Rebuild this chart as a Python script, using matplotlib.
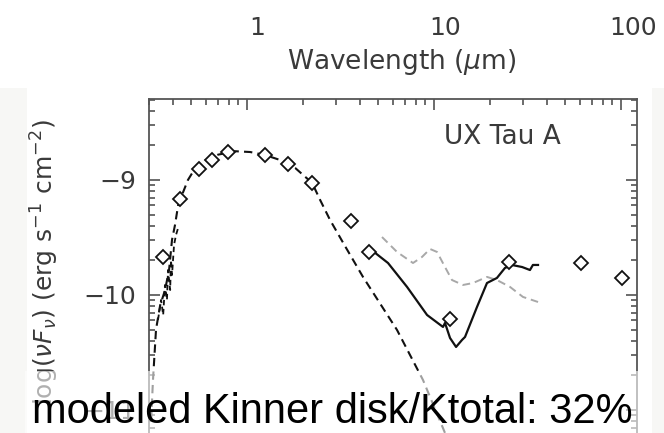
import numpy as np
import matplotlib.pyplot as plt
from matplotlib.ticker import FixedLocator, LogLocator, FuncFormatter, NullFormatter
from matplotlib.patches import Rectangle

plt.rcParams['mathtext.fontset'] = 'dejavusans'

# photometry (wavelength in micron, log nuFnu)
phot_wl = [0.356, 0.438, 0.554, 0.65, 0.79, 1.25, 1.66, 2.23, 3.6, 4.5, 12.2, 25.2, 61.0, 101.0]
phot_logf = [-9.67, -9.165, -8.904, -8.826, -8.757, -8.783, -8.86, -9.026, -9.357, -9.626,
             -10.21, -9.713, -9.72, -9.852]

# stellar photosphere
phot_model_wl = [0.307, 0.314, 0.326, 0.343, 0.364, 0.383, 0.397, 0.412, 0.428, 0.449, 0.483,
                 0.527, 0.596, 0.70, 0.863, 1.04, 1.248, 1.50, 1.81, 2.23, 2.46, 2.78, 3.34,
                 4.17, 6.34, 8.73, 11.45, 15.6]
phot_model_logf = [-11.09, -10.74, -10.30, -10.09, -9.96, -9.78, -9.52, -9.39, -9.22, -9.13,
                   -9.00, -8.90, -8.83, -8.78, -8.75, -8.757, -8.783, -8.826, -8.896, -9.026,
                   -9.174, -9.348, -9.574, -9.843, -10.304, -10.739, -11.20, -11.70]

# optical spectrum
opt_wl = [0.334, 0.347, 0.356, 0.364, 0.373, 0.378, 0.388, 0.392, 0.397, 0.407, 0.417, 0.428]
opt_logf = [-10.217, -10.043, -10.174, -9.913, -10.043, -9.783, -9.957, -9.696, -9.826,
            -9.565, -9.478, -9.417]

# IRS spectrum
irs_wl = [4.775, 5.675, 7.175, 9.18, 11.17, 11.45, 12.18, 13.12, 14.12, 14.65, 16.98, 19.2,
          21.7, 23.96, 26.1, 29.6, 32.6, 33.8, 36.0]
irs_logf = [-9.626, -9.722, -9.930, -10.174, -10.278, -10.243, -10.374, -10.452, -10.391,
            -10.365, -10.104, -9.896, -9.852, -9.765, -9.739, -9.757, -9.783, -9.739, -9.739]

# disk model
disk_wl = [5.27, 6.34, 7.72, 8.62, 9.52, 10.38, 11.45, 12.48, 14.29, 16.17, 19.2, 21.7, 25.5,
           29.9, 36.0]
disk_logf = [-9.496, -9.626, -9.722, -9.670, -9.600, -9.626, -9.757, -9.870, -9.913, -9.896,
             -9.843, -9.870, -9.930, -10.017, -10.061]

top_ticks = [1, 10, 100]

W, H = 664, 433
fig = plt.figure(figsize=(W / 100, H / 100), dpi=100)
fig.patch.set_facecolor('white')
for x0, x1 in [(0, 27), (652, 664)]:
    fig.patches.append(Rectangle((x0 / W, 0), (x1 - x0) / W, 345 / H, transform=fig.transFigure,
                                 fc='#f7f7f5', ec='none', zorder=-1))

ink = '#3a3a3a'
tfont = dict(family='DejaVu Sans', color=ink)

# wavelength scale of the panel above
axl = fig.add_axes([0, 1 - 15 / H, 1, 15 / H])
axl.set_xscale('log')
axl.set_xlim(10 ** (-257 / 188), 10 ** ((664 - 257) / 188))
axl.patch.set_alpha(0)
for s in axl.spines.values():
    s.set_visible(False)
axl.set_yticks([])
axl.xaxis.set_major_locator(FixedLocator(top_ticks))
axl.xaxis.set_minor_locator(FixedLocator([]))
axl.xaxis.set_major_formatter(FuncFormatter(lambda v, p: '%d' % v))
axl.tick_params(axis='x', length=0, pad=1, labelsize=18, labelcolor=ink)
axl.set_xlabel(r'Wavelength ($\mu$m)', fontsize=19, color=ink)
axl.xaxis.set_label_coords(402 / W, -(62 - 15) / 15)
axl.xaxis.label.set_va('center')

# SED panel
ax = fig.add_axes([149 / W, 1 - 453 / H, 488 / W, 354 / H])
ax.set_xscale('log')
ax.set_yscale('log')
ax.set_xlim(0.299, 121.8)
ax.set_ylim(10 ** -11.374, 10 ** -8.296)

ax.plot(phot_model_wl, 10 ** np.array(phot_model_logf), color='#111111', lw=1.5,
        ls=(0, (4, 2.5)))
ax.plot(opt_wl, 10 ** np.array(opt_logf), color='#111111', lw=1.3, ls=(0, (3, 2)))
ax.plot(disk_wl, 10 ** np.array(disk_logf), color='#a8a8a8', lw=1.4, ls=(0, (4, 2.5)))
ax.plot(irs_wl, 10 ** np.array(irs_logf), color='#111111', lw=1.6)
ax.plot(phot_wl, 10 ** np.array(phot_logf), ls='none', marker='D', ms=7.2, mfc='white',
        mec='#111111', mew=1.3)

ax.text(0.725, 0.893, 'UX Tau A', transform=ax.transAxes, ha='center', va='center',
        fontsize=19, **tfont)

for s in ax.spines.values():
    s.set_color('#555555')
    s.set_linewidth(1.3)
ax.xaxis.set_major_locator(LogLocator(base=10, numticks=10))
ax.xaxis.set_minor_locator(LogLocator(base=10, subs=np.arange(2, 10), numticks=10))
ax.yaxis.set_major_locator(LogLocator(base=10, numticks=10))
ax.yaxis.set_minor_locator(LogLocator(base=10, subs=np.arange(2, 10), numticks=10))
ax.xaxis.set_major_formatter(NullFormatter())
ax.xaxis.set_minor_formatter(NullFormatter())
ax.yaxis.set_major_formatter(FuncFormatter(lambda v, p: '\u2212%d' % round(-np.log10(v))))
ax.yaxis.set_minor_formatter(NullFormatter())
ax.tick_params(which='both', direction='in', top=True, right=True, color='#444444', width=1.1)
ax.tick_params(which='major', length=8)
ax.tick_params(which='minor', length=4)
ax.tick_params(axis='y', which='major', labelsize=18, labelcolor=ink, pad=9)

ax.set_ylabel(r'log($\nu F_\nu$) (erg s$^{-1}$ cm$^{-2}$)', fontsize=18, color=ink)
ax.yaxis.set_label_coords((45 - 149) / 488, (453 - 262) / 354)
ax.yaxis.label.set_va('center')

# faded band under the caption
fig.patches.append(Rectangle((25 / W, 0), 620 / W, 62 / H, transform=fig.transFigure,
                             fc='white', ec='none', alpha=0.6, zorder=5))
fig.text(32 / W, 1 - 423 / H, 'modeled Kinner disk/Ktotal: 32%', family='Liberation Sans',
         fontsize=30, color='black', va='baseline', ha='left', zorder=6)

fig.savefig('out.png', dpi=100)
